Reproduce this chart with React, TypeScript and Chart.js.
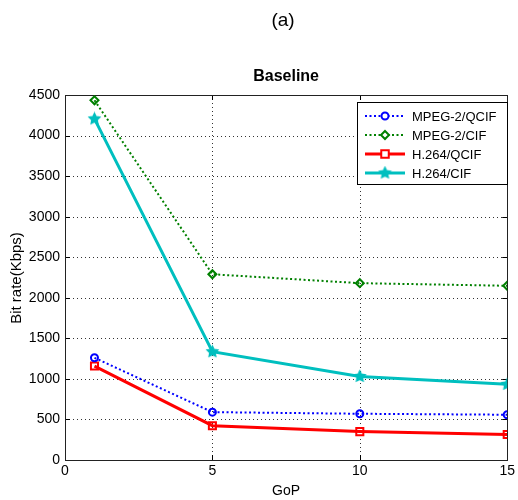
import React, { useEffect, useRef } from "react";
import { Chart, registerables } from "chart.js";

Chart.register(...registerables);

const gop = [1, 5, 10, 15];
const mpeg2Qcif = [1260, 590, 570, 558];
const mpeg2Cif = [4435, 2290, 2180, 2148];
const h264Qcif = [1158, 423, 350, 315];
const h264Cif = [4205, 1335, 1030, 933];
const seriesNames = ["MPEG-2/QCIF", "MPEG-2/CIF", "H.264/QCIF", "H.264/CIF"];
const xTicks = [0, 5, 10, 15];
const yTicks = [0, 500, 1000, 1500, 2000, 2500, 3000, 3500, 4000, 4500];

const FONT = "'Liberation Sans', Arial, sans-serif";

function makeStar(color: string, r: number): HTMLCanvasElement {
  const c = document.createElement("canvas");
  const s = Math.ceil(r * 2 + 4);
  c.width = s;
  c.height = s;
  const ctx = c.getContext("2d")!;
  const cx = s / 2, cy = s / 2;
  ctx.beginPath();
  for (let i = 0; i < 10; i++) {
    const rr = i % 2 === 0 ? r : r * 0.5;
    const a = -Math.PI / 2 + (i * Math.PI) / 5;
    const px = cx + rr * Math.cos(a), py = cy + rr * Math.sin(a);
    if (i === 0) ctx.moveTo(px, py); else ctx.lineTo(px, py);
  }
  ctx.closePath();
  ctx.fillStyle = color;
  ctx.fill();
  ctx.strokeStyle = color;
  ctx.lineWidth = 1.5;
  ctx.stroke();
  return c;
}

function drawMarker(ctx: CanvasRenderingContext2D, style: string, x: number, y: number, r: number) {
  ctx.beginPath();
  if (style === "circle") {
    ctx.arc(x, y, r, 0, Math.PI * 2);
  } else if (style === "rectRot") {
    ctx.moveTo(x, y - r); ctx.lineTo(x + r, y); ctx.lineTo(x, y + r); ctx.lineTo(x - r, y); ctx.closePath();
  } else {
    const h = r * 0.75;
    ctx.rect(x - h, y - h, 2 * h, 2 * h);
  }
  ctx.fill();
  ctx.stroke();
}

export default function App() {
  const ref = useRef<HTMLCanvasElement | null>(null);
  useEffect(() => {
    document.body.style.margin = "0";
    const star = makeStar("#00bfbf", 5.5);
    const toPts = (arr: number[]) => arr.map((y, i) => ({ x: gop[i], y }));
    const datasets: any[] = [
      {
        label: seriesNames[0], data: toPts(mpeg2Qcif), borderColor: "#0000ff",
        borderWidth: 2, borderDash: [2, 2.5], pointStyle: "circle", pointRadius: 3.5,
        pointBorderWidth: 2, pointBackgroundColor: "rgba(255,255,255,0)", pointBorderColor: "#0000ff",
      },
      {
        label: seriesNames[1], data: toPts(mpeg2Cif), borderColor: "#008000",
        borderWidth: 2, borderDash: [2, 2.5], pointStyle: "rectRot", pointRadius: 4,
        pointBorderWidth: 2, pointBackgroundColor: "rgba(255,255,255,0)", pointBorderColor: "#008000",
      },
      {
        label: seriesNames[2], data: toPts(h264Qcif), borderColor: "#ff0000",
        borderWidth: 3, pointStyle: "rect", pointRadius: 5,
        pointBorderWidth: 2, pointBackgroundColor: "rgba(255,255,255,0)", pointBorderColor: "#ff0000",
      },
      {
        label: seriesNames[3], data: toPts(h264Cif), borderColor: "#00bfbf",
        borderWidth: 3, pointStyle: star, pointRadius: 5.5,
        pointBackgroundColor: "#00bfbf", pointBorderColor: "#00bfbf",
      },
    ];

    const decor = {
      id: "decor",
      beforeDatasetsDraw(chart: any) {
        const { ctx, chartArea: a, scales } = chart;
        ctx.save();
        // dotted grid
        ctx.strokeStyle = "rgba(0,0,0,0.8)";
        ctx.lineWidth = 1;
        ctx.setLineDash([1, 3]);
        ctx.beginPath();
        xTicks.forEach((v) => {
          const px = Math.round(scales.x.getPixelForValue(v)) + 0.5;
          ctx.moveTo(px, a.top); ctx.lineTo(px, a.bottom);
        });
        yTicks.forEach((v) => {
          const py = Math.round(scales.y.getPixelForValue(v)) + 0.5;
          ctx.moveTo(a.left, py); ctx.lineTo(a.right, py);
        });
        ctx.stroke();
        ctx.setLineDash([]);
        // inward ticks on all four sides
        ctx.strokeStyle = "#000";
        ctx.beginPath();
        xTicks.forEach((v) => {
          const px = Math.round(scales.x.getPixelForValue(v)) + 0.5;
          ctx.moveTo(px, a.bottom); ctx.lineTo(px, a.bottom - 5);
          ctx.moveTo(px, a.top); ctx.lineTo(px, a.top + 5);
        });
        yTicks.forEach((v) => {
          const py = Math.round(scales.y.getPixelForValue(v)) + 0.5;
          ctx.moveTo(a.left, py); ctx.lineTo(a.left + 5, py);
          ctx.moveTo(a.right, py); ctx.lineTo(a.right - 5, py);
        });
        ctx.stroke();
        ctx.strokeStyle = "#222";
        ctx.strokeRect(Math.round(a.left) + 0.5, Math.round(a.top) + 0.5,
          Math.round(a.right - a.left), Math.round(a.bottom - a.top));
        ctx.restore();
      },
      afterDraw(chart: any) {
        const { ctx, chartArea: a } = chart;
        ctx.save();
        ctx.fillStyle = "#000";
        ctx.textAlign = "center";
        ctx.textBaseline = "middle";
        ctx.font = `19px ${FONT}`;
        ctx.fillText("(a)", 283, 21);
        ctx.font = `bold 16px ${FONT}`;
        ctx.fillText("Baseline", (a.left + a.right) / 2, 77);
        ctx.font = `14px ${FONT}`;
        ctx.fillText("GoP", (a.left + a.right) / 2, 491);
        ctx.save();
        ctx.translate(17, 278);
        ctx.rotate(-Math.PI / 2);
        ctx.font = `15px ${FONT}`;
        ctx.fillText("Bit rate(Kbps)", 0, 0);
        ctx.restore();

        // legend
        const lx = 357, ly = 102, lw = 150, lh = 82;
        ctx.fillStyle = "#fff";
        ctx.fillRect(lx, ly, lw, lh);
        ctx.strokeStyle = "#000";
        ctx.lineWidth = 1;
        ctx.strokeRect(lx + 0.5, ly + 0.5, lw, lh);
        chart.data.datasets.forEach((ds: any, i: number) => {
          const y = 116 + i * 19;
          ctx.save();
          ctx.strokeStyle = ds.borderColor;
          ctx.lineWidth = ds.borderWidth;
          ctx.setLineDash(ds.borderDash || []);
          ctx.beginPath();
          ctx.moveTo(365, y);
          ctx.lineTo(405, y);
          ctx.stroke();
          ctx.setLineDash([]);
          const ps = ds.pointStyle;
          if (ps instanceof HTMLCanvasElement) {
            ctx.drawImage(ps, 385 - ps.width / 2, y - ps.height / 2);
          } else {
            ctx.fillStyle = "#fff";
            ctx.strokeStyle = ds.pointBorderColor;
            ctx.lineWidth = ds.pointBorderWidth;
            drawMarker(ctx, ps, 385, y, ds.pointRadius);
          }
          ctx.restore();
          ctx.fillStyle = "#000";
          ctx.textAlign = "left";
          ctx.font = `13px ${FONT}`;
          ctx.fillText(ds.label, 412, y + 1);
        });
        ctx.restore();
      },
    };

    const chart = new Chart(ref.current!, {
      type: "line",
      data: { datasets },
      plugins: [decor],
      options: {
        animation: false,
        responsive: false,
        devicePixelRatio: 1,
        layout: { padding: { top: 95, right: 7, left: 0, bottom: 0 } },
        plugins: { legend: { display: false }, title: { display: false }, tooltip: { enabled: false } },
        scales: {
          x: {
            type: "linear", min: 0, max: 15,
            afterBuildTicks: (s: any) => { s.ticks = xTicks.map((v) => ({ value: v })); },
            afterFit: (s: any) => { s.height = 40; },
            ticks: { font: { size: 14, family: FONT }, color: "#000", padding: 3, maxRotation: 0, callback: (v: any) => String(v) },
            grid: { display: false, drawTicks: false },
            border: { display: false },
          },
          y: {
            type: "linear", min: 0, max: 4500,
            afterBuildTicks: (s: any) => { s.ticks = yTicks.map((v) => ({ value: v })); },
            afterFit: (s: any) => { s.width = 65; },
            ticks: { font: { size: 14, family: FONT }, color: "#000", padding: 5, callback: (v: any) => String(v) },
            grid: { display: false, drawTicks: false },
            border: { display: false },
          },
        },
      } as any,
    });
    return () => chart.destroy();
  }, []);
  return <canvas ref={ref} width={518} height={500} style={{ display: "block" }} />;
}
